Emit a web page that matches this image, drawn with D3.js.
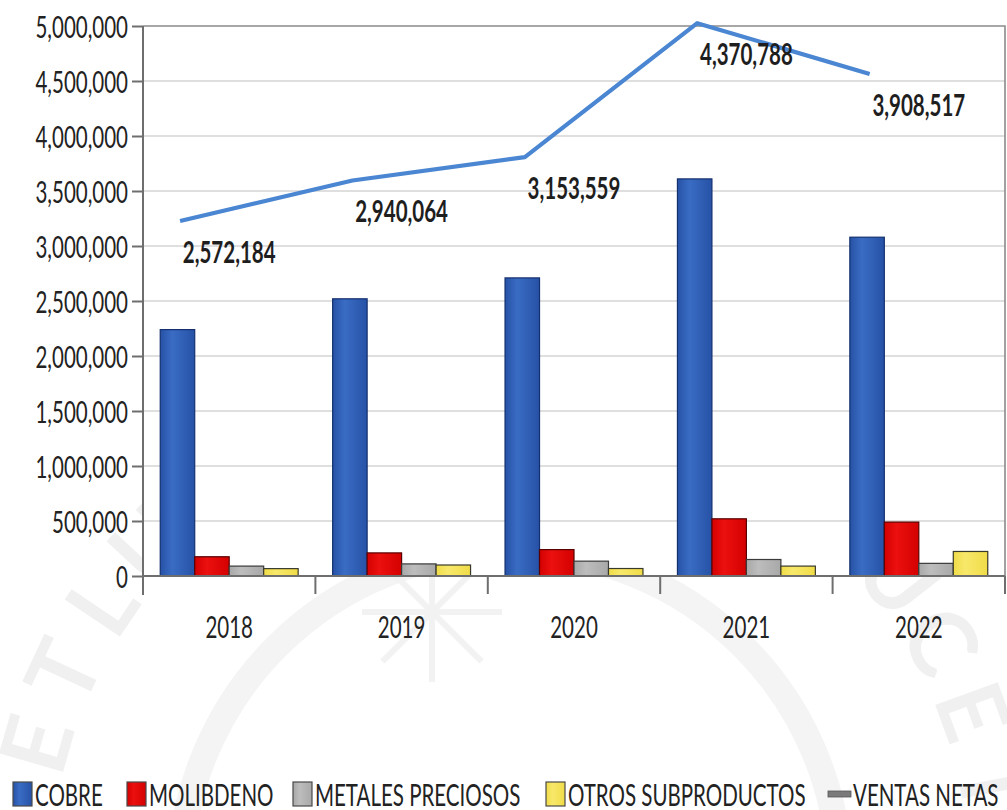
<!DOCTYPE html>
<html>
<head>
<meta charset="utf-8">
<script src="https://cdn.jsdelivr.net/npm/d3@7"></script>
<style>
  body { margin: 0; background: #fff; }
  svg { display: block; }
  text { font-family: Lato, "Open Sans", sans-serif; fill: #2a2a2a; }
</style>
</head>
<body>
<svg id="chart" width="1007" height="810"></svg>
<script>
// ---- data (values in dollars) ----
const years = ["2018", "2019", "2020", "2021", "2022"];
const cobre = [2240000, 2520000, 2710000, 3610000, 3080000];
const molibdeno = [175000, 210000, 240000, 520000, 490000];
const metalesPreciosos = [90000, 110000, 135000, 150000, 115000];
const otrosSubproductos = [67000, 100000, 68000, 90000, 223000];
const ventasNetas = [2572184, 2940064, 3153559, 4370788, 3908517];
const yTicks = [0, 500000, 1000000, 1500000, 2000000, 2500000, 3000000, 3500000, 4000000, 4500000, 5000000];
const seriesNames = ["COBRE", "MOLIBDENO", "METALES PRECIOSOS", "OTROS SUBPRODUCTOS"];
const lineName = "VENTAS NETAS";

// ---- layout & style ----
const svg = d3.select("#chart");
const plot = { left: 143, right: 1005, top: 26, bottom: 576 };
// text is set small and stretched vertically, giving a tall, narrow face
const textSize = 20.5;
const stretch = 1.51;
const barStyle = {
  "COBRE": { fill: "#2652a6", light: "#3a6cc4", stroke: "#14306e" },
  "MOLIBDENO": { fill: "#d40000", light: "#ec1010", stroke: "#5a0000" },
  "METALES PRECIOSOS": { fill: "#a8a8a8", light: "#bdbdbd", stroke: "#3a3a3a" },
  "OTROS SUBPRODUCTOS": { fill: "#f0dc48", light: "#f8e86a", stroke: "#3a3a2a" }
};
const lineColor = "#4a86d2";
const tall = (tx, ty) => `translate(${tx},${ty}) scale(1,${stretch})`;

const barData = seriesNames.map((name, i) => ({
  name, values: [cobre, molibdeno, metalesPreciosos, otrosSubproductos][i]
}));

// ---- scales ----
const x = d3.scaleBand().domain(years).range([plot.left, plot.right]).padding(0);
const xs = d3.scaleBand().domain(seriesNames).range([0, x.bandwidth()])
  .paddingInner(0).paddingOuter(0.5);
const y = d3.scaleLinear().domain([0, 5000000]).range([plot.bottom, plot.top]);
// net sales sit on a secondary (unlabelled) value axis
const y2 = d3.scaleLinear().domain([-655000, 4345000]).range([plot.bottom, plot.top]);

// ---- gradients for bar fills ----
const defs = svg.append("defs");
seriesNames.forEach((name, i) => {
  const g = defs.append("linearGradient").attr("id", "grad" + i)
    .attr("x1", 0).attr("x2", 1).attr("y1", 0).attr("y2", 0);
  g.append("stop").attr("offset", "0%").attr("stop-color", barStyle[name].fill);
  g.append("stop").attr("offset", "35%").attr("stop-color", barStyle[name].light);
  g.append("stop").attr("offset", "100%").attr("stop-color", barStyle[name].fill);
});

// ---- faint seal watermark in the background ----
const wm = svg.append("g").attr("class", "watermark");
const wc = { x: 510, y: 880 };
const sealLetters = [
  { ch: "E", a: 196 }, { ch: "T", a: 205 }, { ch: "L", a: 214 }, { ch: "U", a: 223 },
  { ch: "U", a: 322 }, { ch: "C", a: 331 }, { ch: "E", a: 340 }, { ch: "T", a: 349 }
];
wm.selectAll("text").data(sealLetters).join("text")
  .attr("transform", d => {
    const r = 495, t = d.a * Math.PI / 180;
    return `translate(${wc.x + r * Math.cos(t)},${wc.y + r * Math.sin(t)}) rotate(${d.a + 90})`;
  })
  .attr("text-anchor", "middle").attr("dominant-baseline", "central")
  .style("font-size", "92px").style("font-weight", "700").style("fill", "#f0f0f0")
  .text(d => d.ch);
wm.append("circle").attr("cx", wc.x).attr("cy", wc.y).attr("r", 330)
  .attr("fill", "none").attr("stroke", "#f4f4f4").attr("stroke-width", 26);
const star = wm.append("g").attr("transform", "translate(432,612)");
[0, 45, 90, 135].forEach(a => {
  star.append("line").attr("x1", -70).attr("x2", 70).attr("y1", 0).attr("y2", 0)
    .attr("transform", `rotate(${a})`).attr("stroke", "#f2f2f2").attr("stroke-width", 6);
});

// plot area background
svg.append("rect")
  .attr("x", plot.left).attr("y", plot.top)
  .attr("width", plot.right - plot.left).attr("height", plot.bottom - plot.top)
  .attr("fill", "#fff").attr("opacity", 0.97);

// ---- gridlines ----
svg.append("g").selectAll("line")
  .data(yTicks.filter(v => v > 0 && v < 5000000))
  .join("line")
  .attr("x1", plot.left).attr("x2", plot.right)
  .attr("y1", d => y(d)).attr("y2", d => y(d))
  .attr("stroke", "#d4d4d4").attr("stroke-width", 1.6);

// plot frame (top and right edges)
svg.append("path")
  .attr("d", `M${plot.left},${plot.top}H${plot.right}V${plot.bottom}`)
  .attr("fill", "none").attr("stroke", "#8a8a8a").attr("stroke-width", 1.6);

// ---- bars ----
const groups = svg.append("g").selectAll("g")
  .data(barData).join("g")
  .attr("fill", (d, i) => `url(#grad${i})`)
  .attr("stroke", d => barStyle[d.name].stroke)
  .attr("stroke-width", 1.2);
groups.selectAll("rect")
  .data(d => d.values.map((v, i) => ({ name: d.name, year: years[i], v })))
  .join("rect")
  .attr("x", d => x(d.year) + xs(d.name))
  .attr("width", xs.bandwidth())
  .attr("y", d => y(d.v))
  .attr("height", d => y(0) - y(d.v));

// ---- y axis ----
const yAxis = svg.append("g")
  .attr("transform", `translate(${plot.left},0)`)
  .call(d3.axisLeft(y).tickValues(yTicks).tickFormat(d3.format(",")).tickSize(11).tickPadding(15));
yAxis.select(".domain").attr("stroke", "#6e6e6e").attr("stroke-width", 2)
  .attr("d", `M0,${plot.top}V${plot.bottom + 19}`);
yAxis.selectAll(".tick line").attr("stroke", "#6e6e6e").attr("stroke-width", 2);
yAxis.selectAll(".tick text")
  .attr("x", null).attr("dy", null)
  .attr("transform", tall(-15, 0))
  .attr("dominant-baseline", "central")
  .style("font-size", textSize + "px").style("fill", "#222");

// ---- x axis ----
const xAxis = svg.append("g")
  .attr("transform", `translate(0,${plot.bottom})`)
  .call(d3.axisBottom(x).tickSize(0).tickPadding(0));
xAxis.select(".domain").attr("stroke", "#6e6e6e").attr("stroke-width", 2)
  .attr("d", `M${plot.left},0H${plot.right}`);
xAxis.selectAll(".tick text")
  .attr("y", null).attr("dy", null)
  .attr("transform", tall(0, 50))
  .attr("dominant-baseline", "central")
  .style("font-size", textSize + "px").style("fill", "#222");
// category separators
xAxis.append("g").selectAll("line")
  .data(years.slice(1).map(yr => x(yr)).concat([plot.right]))
  .join("line")
  .attr("x1", d => d).attr("x2", d => d).attr("y1", 0).attr("y2", 18)
  .attr("stroke", "#6e6e6e").attr("stroke-width", 2);

// ---- net sales line ----
const lineX = yr => x(yr) + x.bandwidth() * 0.215;
const line = d3.line().x((d, i) => lineX(years[i])).y(d => y2(d));
svg.append("path").datum(ventasNetas)
  .attr("d", line)
  .attr("fill", "none").attr("stroke", lineColor)
  .attr("stroke-width", 4.2).attr("stroke-linejoin", "round");

svg.append("g").selectAll("text")
  .data(ventasNetas).join("text")
  .attr("transform", (d, i) => tall(x(years[i]) + x.bandwidth() / 2, y2(d) + 30))
  .attr("text-anchor", "middle").attr("dominant-baseline", "central")
  .style("font-size", textSize + "px").style("font-weight", "700").style("fill", "#1e1e1e")
  .text(d3.format(","));

// ---- legend ----
const legendY = 794;
const legendItems = [
  { name: seriesNames[0], x: 13 },
  { name: seriesNames[1], x: 127 },
  { name: seriesNames[2], x: 293 },
  { name: seriesNames[3], x: 546 },
  { name: lineName, x: 828, line: true }
];
const leg = svg.append("g");
legendItems.forEach((it, i) => {
  const g = leg.append("g").attr("transform", `translate(${it.x},${legendY})`);
  if (it.line) {
    g.append("rect").attr("x", 0).attr("y", -3).attr("width", 23).attr("height", 6)
      .attr("fill", "#7a7a7a").attr("stroke", "#555").attr("stroke-width", 0.8);
  } else {
    g.append("rect").attr("x", 0).attr("y", -12).attr("width", 19).attr("height", 24)
      .attr("fill", `url(#grad${i})`).attr("stroke", "#4a4a4a").attr("stroke-width", 1.2);
  }
  g.append("text")
    .attr("transform", tall(it.line ? 25 : 22, 0))
    .attr("dominant-baseline", "central")
    .style("font-size", textSize + "px").style("fill", "#222")
    .text(it.name);
});
</script>
</body>
</html>
